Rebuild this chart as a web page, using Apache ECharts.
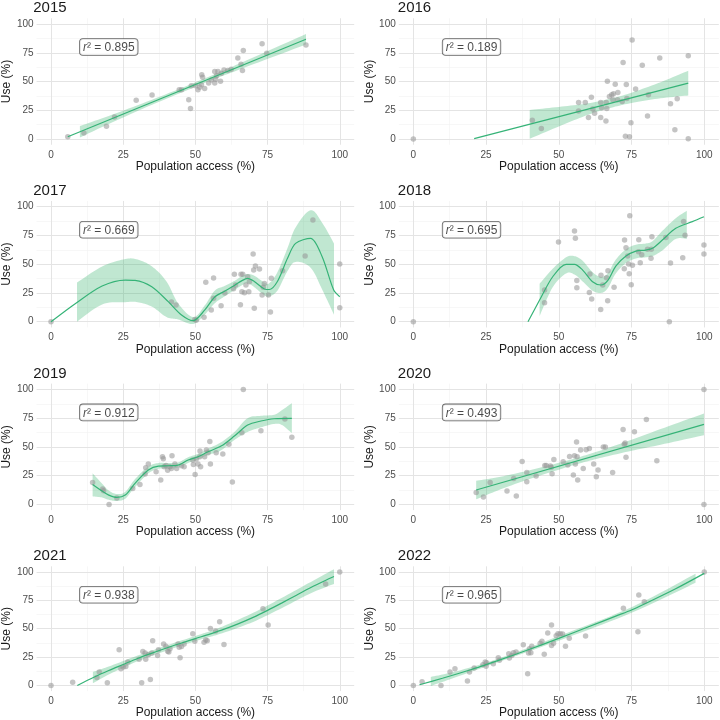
<!DOCTYPE html>
<html><head><meta charset="utf-8">
<script src="https://cdn.jsdelivr.net/npm/echarts@6/dist/echarts.min.js"></script>
<style>html,body{margin:0;padding:0;background:#fff}#c{width:720px;height:720px}</style>
</head><body><div id="c"></div>
<script>
// ---------- data ----------
const years = ['2015','2016','2017','2018','2019','2020','2021','2022'];
const r2Text = ['0.895','0.189','0.669','0.695','0.912','0.493','0.938','0.965'];
const xTicks = [0, 25, 50, 75, 100];
const yTicks = [0, 25, 50, 75, 100];
const minorTicks = [12.5, 37.5, 62.5, 87.5];
const xTitle = 'Population access (%)';
const yTitle = 'Use (%)';
const labelPos = [20, 80];

const pts2015 = [[5.8,2.0],[11.4,5.2],[19.2,11.0],[22.0,19.1],[29.5,33.8],[35.0,38.2],[44.4,42.8],[45.2,42.8],[47.7,34.1],[48.3,26.6],[48.6,46.2],[50.1,46.2],[50.9,42.8],[52.1,47.1],[52.2,55.8],[52.5,53.8],[53.2,43.9],[54.6,48.6],[55.5,51.4],[56.7,58.7],[56.7,48.6],[57.3,54.9],[57.8,58.7],[58.7,50.3],[59.0,57.2],[59.9,60.1],[61.2,59.5],[62.4,60.7],[64.7,70.5],[65.8,65.0],[66.3,59.5],[66.6,76.9],[73.1,82.9],[74.7,74.6],[88.3,81.8],[51.5,45.0],[57.0,52.0]];
const fitX2015 = [5.8, 88.3];
const fitY2015 = [2.0, 86.7];
const bandX2015 = [10, 20, 35, 55, 70, 88.3];
const bandLo2015 = [1.3, 13.1, 29.8, 50.5, 64.9, 82.2];
const bandHi2015 = [11.3, 20.1, 34.2, 54.5, 70.9, 91.2];

const pts2016 = [[0,0],[40.9,16.2],[44.0,9.2],[56.8,31.8],[56.8,24.3],[59.1,31.8],[60.2,18.8],[61.2,36.4],[61.7,26.0],[62.3,22.5],[64.4,18.8],[64.4,31.8],[64.7,27.2],[66.3,31.8],[66.2,15.6],[66.5,26.6],[66.7,50.3],[67.4,37.0],[68.2,38.4],[68.6,34.1],[68.8,39.3],[69.4,47.7],[70.2,34.1],[70.3,40.5],[71.8,32.7],[72.1,66.5],[72.9,2.3],[73.2,47.4],[73.4,35.3],[74.3,2.0],[74.8,14.2],[75.2,86.1],[76.4,43.4],[78.7,64.2],[80.5,19.9],[80.8,38.4],[84.7,70.5],[88.4,30.6],[89.9,8.1],[90.7,35.0],[94.5,72.3],[94.5,0.3]];
const fitX2016 = [20.9, 94.5];
const fitY2016 = [0.3, 48.6];
const bandX2016 = [40, 50, 60, 68, 75, 85, 94.5];
const bandLo2016 = [0.3, 10.9, 21.0, 27.2, 31.3, 35.4, 37.8];
const bandHi2016 = [25.3, 27.9, 31.0, 35.2, 40.3, 49.4, 59.4];

const pts2017 = [[0,0],[41.7,17.1],[43.3,14.5],[49.8,2.0],[50.3,1.2],[53.0,3.8],[53.6,34.2],[55.5,10.1],[56.3,38.0],[56.3,20.3],[58.9,13.9],[60.2,24.9],[63.2,28.7],[63.5,41.2],[63.9,31.9],[65.6,14.8],[65.8,41.2],[66.1,26.1],[66.4,41.2],[67.0,25.2],[67.5,31.9],[68.1,39.1],[68.5,26.1],[68.7,34.8],[70.0,58.8],[70.2,44.9],[70.4,11.6],[70.8,48.4],[72.2,45.8],[73.1,23.2],[73.5,29.9],[73.9,33.3],[75.3,23.2],[76.0,8.4],[76.3,37.7],[80.2,44.3],[88.0,57.1],[90.7,88.4],[100,50.1],[100,12.2]];
const fitX2017 = [0, 8.5, 17.7, 25.7, 29.1, 34.9, 40.6, 45.2, 49.2, 53.2, 56.7, 60.1, 63.5, 66.0, 68.1, 70.4, 73.9, 75.6, 78.4, 81.9, 84.7, 89.9, 93.9, 97.9, 100];
const fitY2017 = [0, 15.9, 31.0, 36.2, 35.9, 30.4, 17.4, 5.8, 0.9, 10.0, 21.5, 26.5, 31.5, 35.5, 37.7, 35.0, 28.5, 28.0, 35.0, 55.1, 68.1, 72.5, 56.5, 27.5, 21.7];
const bandX2017 = [9, 17.7, 25.7, 30, 35, 40, 44, 49.2, 53.2, 56.7, 60.1, 63.5, 66, 68.1, 70.4, 73.9, 75.6, 78.4, 81.9, 84.7, 89.9, 93.9, 98];
const bandLo2017 = [0, 15, 17, 17, 13, 4, 2, -2, 6, 16, 22, 27.5, 31.5, 33.5, 30, 23, 22, 27, 44, 52, 47, 28, 6];
const bandHi2017 = [34, 48, 54.5, 54, 48, 35, 16, 4, 14, 27, 31, 35.5, 39.5, 41.5, 40, 34, 33.5, 43, 64, 82, 97, 86, 68];

const pts2018 = [[0,0],[45.1,27.5],[45.1,16.5],[49.9,69.3],[55.4,78.8],[55.7,72.5],[56.2,35.9],[56.2,29.6],[60.5,25.5],[60.7,41.4],[61.3,19.7],[64.4,10.7],[64.5,40.3],[65.1,31.9],[66.4,38.3],[66.8,18.3],[66.9,44.3],[69.0,29.9],[72.6,71.0],[72.5,46.1],[73.1,64.3],[73.7,57.1],[74.0,50.1],[74.2,41.7],[74.4,92.2],[74.9,32.2],[75.3,49.0],[77.4,60.9],[77.5,71.3],[78.0,51.3],[78.5,58.3],[80.5,62.9],[81.7,55.1],[81.8,62.9],[82.0,73.9],[86.8,73.3],[88.0,0],[88.4,51.0],[92.6,55.7],[92.9,87.2],[93.4,75.1],[99.9,66.7],[99.9,58.8]];
const fitX2018 = [39.4, 43.4, 47.9, 52.5, 55.4, 58.2, 61.6, 64.5, 66.8, 69.6, 73.1, 76.5, 79.9, 82.2, 85.6, 90.2, 95.9, 99.9];
const fitY2018 = [0, 18.8, 39.1, 49.9, 49.9, 44.9, 34.8, 31.9, 35.7, 48.4, 57.1, 61.4, 62.3, 63.8, 71.0, 81.2, 87.0, 91.3];
const bandX2018 = [43.4, 47.9, 52.5, 55.4, 58.2, 61.6, 64.5, 66.8, 69.6, 73.1, 76.5, 79.9, 82.2, 85.6, 90.2, 94];
const bandLo2018 = [5, 30, 42, 41, 35, 27, 25, 29, 42, 51, 55, 56, 57, 62, 72, 72];
const bandHi2018 = [33, 46, 56, 57, 53, 43, 39, 42, 54, 63, 67, 68, 70, 79, 90, 96.5];

const pts2019 = [[14.4,19.1],[17.9,13.3],[18.2,11.9],[20.1,0],[22.8,5.5],[28.3,13.9],[30.8,17.4],[32.6,26.4],[32.8,31.9],[33.7,35.1],[36.4,28.4],[38.0,21.2],[38.6,41.4],[38.9,39.7],[39.2,32.8],[39.8,33.9],[40.4,29.6],[41.2,32.8],[41.7,31.3],[41.9,42.3],[42.9,35.1],[43.5,31.3],[45.2,33.6],[46.1,32.8],[49.1,38.6],[49.3,34.8],[49.9,26.1],[50.3,39.4],[50.9,35.1],[51.5,41.4],[51.6,46.4],[51.8,32.8],[53.2,41.4],[53.8,47.2],[54.4,44.9],[55.0,54.8],[55.2,35.1],[57.2,44.9],[59.5,43.8],[61.6,52.2],[62.8,19.4],[66.1,62.3],[66.6,100],[72.7,64.1],[81.0,74.2],[83.4,58.3]];
const fitX2019 = [14.4, 17.7, 20.0, 22.8, 25.7, 29.1, 33.7, 37.2, 40.6, 44.0, 47.5, 50.9, 54.4, 58.9, 63.5, 68.1, 72.7, 77.3, 83.4];
const fitY2019 = [17.4, 11.6, 8.1, 6.1, 8.1, 18.3, 29.9, 33.3, 33.6, 34.2, 38.6, 41.4, 45.8, 50.7, 59.4, 69.0, 72.5, 74.5, 74.8];
const bandX2019 = [14.4, 17.7, 20, 22.8, 25.7, 29.1, 33.7, 37.2, 40.6, 44, 47.5, 50.9, 54.4, 58.9, 63.5, 68.1, 72.7, 77.3, 80, 83.4];
const bandLo2019 = [7, 6, 4, 3, 5, 15, 27, 31, 31, 32, 36, 39, 43, 47, 56, 63, 67, 70, 69, 62];
const bandHi2019 = [27, 18, 12, 9, 11, 22, 33, 36, 36, 36.5, 41, 44, 48.5, 54, 63, 75, 77, 78, 82, 88];

const pts2020 = [[21.6,10.4],[24.1,6.4],[26.4,19.1],[32.2,11.6],[34.5,22.6],[35.4,7.2],[37.4,37.4],[39.0,27.8],[39.0,19.7],[42.2,24.6],[45.2,33.9],[45.7,33.9],[47.1,33.3],[47.4,32.2],[47.7,26.7],[48.3,39.1],[51.5,37.1],[53.1,34.2],[53.7,41.7],[55.0,25.5],[55.4,42.3],[55.7,35.1],[56.1,54.2],[56.3,41.4],[56.5,21.2],[57.5,47.2],[58.4,31.3],[59.4,47.5],[60.5,48.7],[62.0,35.1],[62.9,24.1],[63.5,29.9],[65.3,49.9],[66.0,49.9],[68.5,27.8],[72.1,65.2],[72.5,52.2],[72.8,53.3],[73.1,40.9],[76.0,63.2],[80.1,73.9],[83.7,38.0],[99.9,100],[99.9,0]];
const fitX2020 = [21.6, 99.9];
const fitY2020 = [12.5, 69.6];
const bandX2020 = [21.6, 30, 40, 50, 57, 65, 75, 85, 99.9];
const bandLo2020 = [4.5, 13.1, 22.1, 30.2, 35.5, 40.8, 46.6, 51.9, 60.1];
const bandHi2020 = [20.5, 24.1, 29.7, 36.2, 41.1, 47.4, 56.2, 65.5, 79.1];

const pts2021 = [[0,0],[7.5,2.9],[15.9,7.0],[16.7,11.9],[19.5,2.3],[23.6,31.4],[24.2,14.8],[25.0,16.3],[25.9,16.6],[26.6,20.6],[30.5,23.0],[31.4,2.3],[31.8,29.9],[32.6,28.5],[32.8,23.0],[33.7,27.0],[34.4,5.2],[34.9,28.5],[35.2,39.5],[36.9,26.5],[37.2,31.4],[39.0,36.6],[39.8,34.6],[40.4,30.2],[40.8,29.4],[41.2,32.3],[44.0,36.6],[44.4,33.7],[44.7,24.4],[45.2,34.3],[46.1,36.6],[49.1,45.6],[49.8,39.0],[53.0,38.1],[53.6,40.1],[54.1,39.5],[55.2,50.3],[57.0,48.0],[58.4,56.1],[59.9,36.0],[73.4,67.7],[75.2,53.2],[95.1,89.5],[100,100]];
const fitX2021 = [9.1, 15, 20, 25, 30, 35, 40, 45, 50, 55, 60, 65, 70, 75, 80, 85, 90, 95, 98];
const fitY2021 = [0, 7.5, 13.2, 18.5, 23.8, 28.5, 33, 37.2, 41.3, 45.3, 49.6, 54.5, 60, 66.2, 72.8, 79.6, 86.3, 92.5, 96];
const bandX2021 = [14.5, 20, 25, 30, 40, 50, 55, 60, 70, 80, 90, 98];
const bandLo2021 = [1.9, 9.7, 15.5, 21.3, 30.7, 39.0, 42.8, 46.6, 56, 68.3, 81.3, 89.5];
const bandHi2021 = [11.9, 16.7, 21.5, 26.3, 35.3, 43.6, 47.8, 52.6, 64, 77.3, 91.3, 102.5];

const pts2022 = [[0,0],[3.0,3.2],[9.5,0],[12.6,11.9],[14.3,14.8],[18.6,3.8],[19.3,11.9],[20.9,15.4],[23.9,18.3],[24.7,20.6],[25.0,16.9],[25.2,20.1],[27.5,19.2],[29.2,24.4],[29.6,22.1],[32.8,27.9],[33.0,24.1],[33.8,26.5],[34.4,28.8],[35.3,29.4],[37.8,35.8],[39.3,10.2],[39.6,28.5],[39.9,32.3],[40.4,28.8],[40.7,34.6],[43.6,37.2],[44.2,39.0],[45.0,27.6],[46.2,46.2],[47.5,53.2],[47.5,35.2],[48.2,37.2],[49.1,43.9],[49.7,45.6],[50.5,45.6],[51.3,45.3],[52.3,34.6],[53.6,41.6],[59.2,43.6],[72.2,68.0],[77.2,47.4],[77.5,79.7],[79.4,73.8],[100,100]];
const fitX2022 = [2.1, 10, 20, 25, 30, 40, 50, 60, 70, 75, 80, 90, 100];
const fitY2022 = [0.6, 6.3, 14.0, 18.4, 22.8, 31.9, 41.5, 51.5, 61.5, 66.5, 72.5, 85, 98.8];
const bandX2022 = [6, 15, 30, 50, 75, 97];
const bandLo2022 = [-0.5, 7.6, 21.3, 39.5, 64, 90.5];
const bandHi2022 = [7.5, 12.6, 24.3, 43.5, 69, 98.5];

// ---------- assembly ----------
const panels = [
  [pts2015, fitX2015, fitY2015, bandX2015, bandLo2015, bandHi2015],
  [pts2016, fitX2016, fitY2016, bandX2016, bandLo2016, bandHi2016],
  [pts2017, fitX2017, fitY2017, bandX2017, bandLo2017, bandHi2017],
  [pts2018, fitX2018, fitY2018, bandX2018, bandLo2018, bandHi2018],
  [pts2019, fitX2019, fitY2019, bandX2019, bandLo2019, bandHi2019],
  [pts2020, fitX2020, fitY2020, bandX2020, bandLo2020, bandHi2020],
  [pts2021, fitX2021, fitY2021, bandX2021, bandLo2021, bandHi2021],
  [pts2022, fitX2022, fitY2022, bandX2022, bandLo2022, bandHi2022]
];

const FONT = '"Liberation Sans", Arial, Helvetica, sans-serif';
const GREEN = '#35b377';
const BAND = 'rgba(60,179,113,0.32)';
const POINT = 'rgba(150,150,150,0.7)';
const MAJOR = '#e4e4e4';
const MINOR = '#f1f1f1';

// smooth an edge (already in pixel space) with Catmull-Rom curves, for drawing only
function smoothEdge(pp) {
  if (pp.length < 3) return pp.slice();
  const out = [];
  const n = pp.length;
  for (let k = 0; k < n - 1; k++) {
    const p0 = pp[Math.max(k - 1, 0)], p1 = pp[k], p2 = pp[k + 1], p3 = pp[Math.min(k + 2, n - 1)];
    const steps = 10;
    for (let s = 0; s < steps; s++) {
      const t = s / steps, t2 = t * t, t3 = t2 * t;
      const f = (a, b, c, d) => 0.5 * ((2 * b) + (-a + c) * t + (2 * a - 5 * b + 4 * c - d) * t2 + (-a + 3 * b - 3 * c + d) * t3);
      out.push([f(p0[0], p1[0], p2[0], p3[0]), f(p0[1], p1[1], p2[1], p3[1])]);
    }
  }
  out.push(pp[n - 1]);
  return out;
}

const grids = [], xAxes = [], yAxes = [], titles = [], series = [];
panels.forEach((p, i) => {
  const col = i % 2, row = Math.floor(i / 2);
  const left = col ? 398.8 : 34.2;
  const top = 18.25 + row * 182.7;
  grids.push({left: left, top: top, width: 320, height: 126.5, containLabel: false});
  titles.push({text: years[i], left: left - 1, top: top - 17.5, padding: 0,
    textStyle: {fontSize: 15, fontWeight: 'normal', color: '#1a1a1a', fontFamily: FONT}});
  xAxes.push({gridIndex: i, type: 'value', min: -5, max: 105,
    axisLine: {show: false}, axisTick: {show: false}, splitLine: {show: false},
    axisLabel: {customValues: xTicks, color: '#4d4d4d', fontSize: 10, margin: 5, fontFamily: FONT},
    name: xTitle, nameLocation: 'middle', nameGap: 15,
    nameTextStyle: {fontSize: 12, color: '#1a1a1a', fontFamily: FONT}});
  yAxes.push({gridIndex: i, type: 'value', min: -5, max: 105,
    axisLine: {show: false}, axisTick: {show: false}, splitLine: {show: false},
    axisLabel: {customValues: yTicks, color: '#4d4d4d', fontSize: 10, margin: 3, fontFamily: FONT},
    name: yTitle, nameLocation: 'middle', nameGap: 20,
    nameTextStyle: {fontSize: 12, color: '#1a1a1a', fontFamily: FONT}});

  const gl = [];
  minorTicks.forEach(v => {
    gl.push({xAxis: v, lineStyle: {color: MINOR, width: 0.6, type: 'solid'}});
    gl.push({yAxis: v, lineStyle: {color: MINOR, width: 0.6, type: 'solid'}});
  });
  xTicks.forEach(v => gl.push({xAxis: v, lineStyle: {color: MAJOR, width: 1, type: 'solid'}}));
  yTicks.forEach(v => gl.push({yAxis: v, lineStyle: {color: MAJOR, width: 1, type: 'solid'}}));

  const [pts, fx, fy, bx, lo, hi] = p;
  // confidence band: polygon through the read upper/lower edges, placed via the axes
  series.push({type: 'custom', xAxisIndex: i, yAxisIndex: i, z: 1, silent: true,
    data: bx.map((x, k) => [x, lo[k], hi[k]]),
    encode: {x: 0, y: [1, 2]},
    renderItem: (params, api) => {
      if (params.dataIndex !== 0) return null;
      const up = smoothEdge(bx.map((x, k) => api.coord([x, hi[k]])));
      const dn = smoothEdge(bx.map((x, k) => api.coord([x, lo[k]]))).reverse();
      return {type: 'polygon', shape: {points: up.concat(dn)}, style: {fill: BAND, stroke: null}};
    },
    markLine: {silent: true, symbol: ['none', 'none'], label: {show: false}, z: 0, animation: false,
      emphasis: {disabled: true}, lineStyle: {type: 'solid'}, data: gl}});
  series.push({type: 'scatter', xAxisIndex: i, yAxisIndex: i, data: pts, symbolSize: 5.5,
    itemStyle: {color: POINT}, z: 2, silent: true});
  series.push({type: 'line', xAxisIndex: i, yAxisIndex: i, data: fx.map((x, k) => [x, fy[k]]),
    symbol: 'none', smooth: 0.3, lineStyle: {color: GREEN, width: 1.2}, z: 3, silent: true});
  series.push({type: 'scatter', xAxisIndex: i, yAxisIndex: i, data: [labelPos], symbolSize: 1,
    itemStyle: {color: 'rgba(0,0,0,0)'}, z: 4, silent: true,
    label: {show: true, position: 'inside', formatter: '{r|r}{n|² = ' + r2Text[i] + '}',
      backgroundColor: '#fff', borderColor: '#404040', borderWidth: 0.8, borderRadius: 3, padding: [3, 3, 1, 3],
      rich: {r: {fontStyle: 'italic', fontSize: 12, color: '#1a1a1a', fontFamily: FONT},
             n: {fontSize: 12, color: '#1a1a1a', fontFamily: FONT}}}});
});

const chart = echarts.init(document.getElementById('c'), null, {renderer: 'canvas'});
chart.setOption({animation: false, backgroundColor: '#fff', title: titles, grid: grids,
  xAxis: xAxes, yAxis: yAxes, series: series});
</script></body></html>
